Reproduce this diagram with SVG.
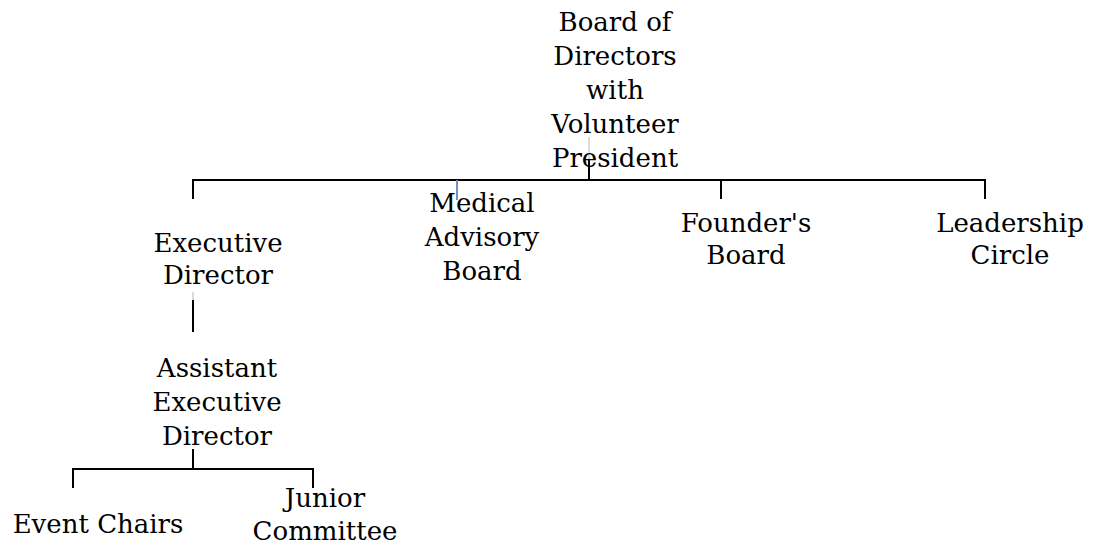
<svg xmlns="http://www.w3.org/2000/svg" width="1093" height="548" viewBox="0 0 1093 548">
<style>
text{font-family:"DejaVu Serif","Liberation Serif",serif;font-size:26px;fill:#000;text-anchor:middle}
.c{stroke:#000;stroke-width:2;fill:none}
</style>
<rect width="1093" height="548" fill="#fff"/>
<g id="connectors">
<line x1="589" y1="137" x2="589" y2="160" stroke="#d0d0d0" stroke-width="1.5"/>
<path class="c" d="M589 160V180M193 199V180H985V199M721 180V199"/>
<line x1="457" y1="180" x2="457" y2="200" stroke="#6f94c4" stroke-width="2"/>
<line x1="193" y1="292" x2="193" y2="300" stroke="#d0d0d0" stroke-width="1.5"/>
<path class="c" d="M193 300V332"/>
<path class="c" d="M193 449V469M73 488V469H313V488"/>
</g>
<g id="board"><text x="615" y="31">Board of</text><text x="615" y="65">Directors</text><text x="615" y="99">with</text><text x="615" y="133">Volunteer</text><text x="615" y="167">President</text></g>
<g id="exec"><text x="218" y="252">Executive</text><text x="218" y="284">Director</text></g>
<g id="medical"><text x="482" y="212">Medical</text><text x="482" y="246">Advisory</text><text x="482" y="280">Board</text></g>
<g id="founders"><text x="746" y="232">Founder's</text><text x="746" y="264">Board</text></g>
<g id="leadership"><text x="1010" y="232">Leadership</text><text x="1010" y="264">Circle</text></g>
<g id="assistant"><text x="217" y="377">Assistant</text><text x="217" y="411">Executive</text><text x="217" y="445">Director</text></g>
<g id="event"><text x="98" y="533">Event Chairs</text></g>
<g id="junior"><text x="325" y="507">Junior</text><text x="325" y="540">Committee</text></g>
</svg>
